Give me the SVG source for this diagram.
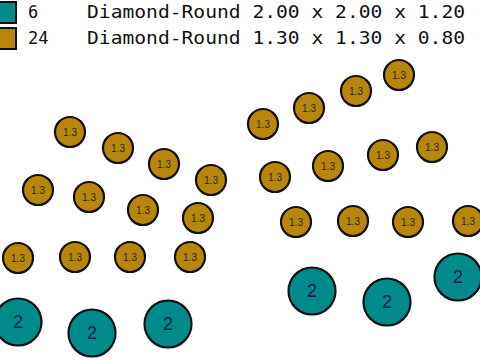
<svg xmlns="http://www.w3.org/2000/svg" width="480" height="360" viewBox="0 0 480 360">
<style>
.s circle{fill:#B8860B;stroke:#111;stroke-width:2.2}
.s text{font-family:"Liberation Sans",Arial,sans-serif;font-size:10px;fill:#2a2a2a;text-anchor:middle;dominant-baseline:central}
.l circle{fill:#008B8B;stroke:#111;stroke-width:2.2}
.l text{font-family:"Liberation Sans",Arial,sans-serif;font-size:18px;fill:#10203a;text-anchor:middle;dominant-baseline:central}
.lg{font-family:"DejaVu Sans Mono","Liberation Mono",monospace;font-size:17px;fill:#111}
</style>
<rect width="480" height="360" fill="#fff"/>
<g id="legend">
<rect x="-4" y="2" width="20" height="21" fill="#008B8B" stroke="#111" stroke-width="2"/>
<rect x="-4" y="28" width="20" height="21" fill="#B8860B" stroke="#111" stroke-width="2"/>
<text class="lg" x="28" y="18">6</text>
<text class="lg" x="28" y="44">24</text>
<text class="lg" x="87" y="18" textLength="378" lengthAdjust="spacingAndGlyphs">Diamond-Round 2.00 x 2.00 x 1.20</text>
<text class="lg" x="87" y="44" textLength="378" lengthAdjust="spacingAndGlyphs">Diamond-Round 1.30 x 1.30 x 0.80</text>
</g>
<g id="connectors"/>
<g class="s">
<g id="s1"><circle cx="70" cy="132" r="15"/><text x="70" y="132">1.3</text></g>
<g id="s2"><circle cx="118" cy="148" r="15"/><text x="118" y="148">1.3</text></g>
<g id="s3"><circle cx="164" cy="164" r="15"/><text x="164" y="164">1.3</text></g>
<g id="s4"><circle cx="211" cy="180" r="15"/><text x="211" y="180">1.3</text></g>
<g id="s5"><circle cx="38" cy="190" r="15"/><text x="38" y="190">1.3</text></g>
<g id="s6"><circle cx="89" cy="197" r="15"/><text x="89" y="197">1.3</text></g>
<g id="s7"><circle cx="143" cy="210" r="15"/><text x="143" y="210">1.3</text></g>
<g id="s8"><circle cx="198" cy="218" r="15"/><text x="198" y="218">1.3</text></g>
<g id="s9"><circle cx="18" cy="258" r="15"/><text x="18" y="258">1.3</text></g>
<g id="s10"><circle cx="75" cy="257" r="15"/><text x="75" y="257">1.3</text></g>
<g id="s11"><circle cx="130" cy="257" r="15"/><text x="130" y="257">1.3</text></g>
<g id="s12"><circle cx="190" cy="257" r="15"/><text x="190" y="257">1.3</text></g>
<g id="s13"><circle cx="399" cy="75" r="15"/><text x="399" y="75">1.3</text></g>
<g id="s14"><circle cx="356" cy="91" r="15"/><text x="356" y="91">1.3</text></g>
<g id="s15"><circle cx="309" cy="108" r="15"/><text x="309" y="108">1.3</text></g>
<g id="s16"><circle cx="263" cy="124" r="15"/><text x="263" y="124">1.3</text></g>
<g id="s17"><circle cx="432" cy="147" r="15"/><text x="432" y="147">1.3</text></g>
<g id="s18"><circle cx="383" cy="155" r="15"/><text x="383" y="155">1.3</text></g>
<g id="s19"><circle cx="328" cy="166" r="15"/><text x="328" y="166">1.3</text></g>
<g id="s20"><circle cx="275" cy="177" r="15"/><text x="275" y="177">1.3</text></g>
<g id="s21"><circle cx="296" cy="222" r="15"/><text x="296" y="222">1.3</text></g>
<g id="s22"><circle cx="353" cy="221" r="15"/><text x="353" y="221">1.3</text></g>
<g id="s23"><circle cx="408" cy="222" r="15"/><text x="408" y="222">1.3</text></g>
<g id="s24"><circle cx="468" cy="221" r="15"/><text x="468" y="221">1.3</text></g>
</g>
<g class="l">
<g id="l1"><circle cx="18" cy="322" r="23.5"/><text x="18" y="322">2</text></g>
<g id="l2"><circle cx="92" cy="333" r="23.5"/><text x="92" y="333">2</text></g>
<g id="l3"><circle cx="168" cy="324" r="23.5"/><text x="168" y="324">2</text></g>
<g id="l4"><circle cx="312" cy="291" r="23.5"/><text x="312" y="291">2</text></g>
<g id="l5"><circle cx="387" cy="302" r="23.5"/><text x="387" y="302">2</text></g>
<g id="l6"><circle cx="458" cy="277" r="23.5"/><text x="458" y="277">2</text></g>
</g>
</svg>
